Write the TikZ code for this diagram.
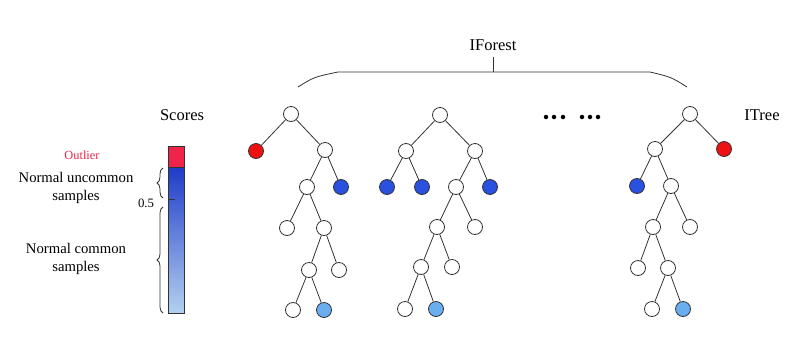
\documentclass[tikz,border=0pt]{standalone}
\usepackage{fontspec}
\setmainfont{Liberation Serif}
\usetikzlibrary{decorations.pathreplacing}
\definecolor{nred}{HTML}{EE1111}
\definecolor{nblue}{HTML}{2A50E0}
\definecolor{nlblue}{HTML}{6AAEF0}
\definecolor{barred}{HTML}{F0244A}
\definecolor{bartop}{HTML}{1E3CC8}
\definecolor{barbot}{HTML}{B4D0F0}
\definecolor{lnc}{HTML}{333333}
\begin{document}
\begin{tikzpicture}[x=1pt,y=-1pt,
  tn/.style={circle,draw=lnc,line width=0.8pt,minimum size=15pt,inner sep=0pt,fill=white},
  rn/.style={tn,fill=nred},
  bn/.style={tn,fill=nblue},
  lbn/.style={tn,fill=nlblue},
  ed/.style={draw=lnc,line width=0.8pt},
  lbl/.style={inner sep=0pt,font=\fontsize{16.5}{19}\selectfont},
  sidetxt/.style={inner sep=0pt,align=center,font=\fontsize{14.7}{18}\selectfont},
  dotn/.style={circle,fill=black,inner sep=0pt,minimum size=4.5pt}]
\useasboundingbox (0,0) rectangle (808,362);

% IForest brace
\node[lbl] (iforest) at (493,45) {IForest};
\coordinate (bt) at (493,57);
\coordinate (bm) at (493,72);
\coordinate (bl) at (298,87);
\coordinate (blc) at (338,72);
\coordinate (brc) at (650,72);
\coordinate (br) at (687,87);
\draw[ed] (bt) -- (bm);
\draw[ed] (bl) .. controls (314,77) .. (blc) -- (brc) .. controls (671,77) .. (br);

\node[lbl] (itree) at (762,115) {ITree};
\node[lbl] (scores) at (182,115) {Scores};

% dots
\foreach \i/\x in {1/546,2/554,3/563,4/582,5/590,6/598}
  \node[dotn] (d\i) at (\x,117) {};

% Tree 1
\node[tn] (t1a) at (291,114) {};
\node[rn] (t1b) at (256,151) {};
\node[tn] (t1c) at (325,150) {};
\node[tn] (t1d) at (307,187) {};
\node[bn] (t1e) at (341,187) {};
\node[tn] (t1f) at (287,228) {};
\node[tn] (t1g) at (324,228) {};
\node[tn] (t1h) at (309,270) {};
\node[tn] (t1i) at (339,270) {};
\node[tn] (t1j) at (293,310) {};
\node[lbn] (t1k) at (324,310) {};
\foreach \p/\c in {a/b,a/c,c/d,c/e,d/f,d/g,g/h,g/i,h/j,h/k}
  \draw[ed] (t1\p) -- (t1\c);

% Tree 2
\node[tn] (t2a) at (440,115) {};
\node[tn] (t2b) at (406,151) {};
\node[tn] (t2c) at (475,151) {};
\node[bn] (t2d) at (387,187) {};
\node[bn] (t2e) at (422,187) {};
\node[tn] (t2f) at (456,187) {};
\node[bn] (t2g) at (490,187) {};
\node[tn] (t2h) at (437,227) {};
\node[tn] (t2i) at (475,227) {};
\node[tn] (t2j) at (421,267) {};
\node[tn] (t2k) at (452,267) {};
\node[tn] (t2l) at (405,309) {};
\node[lbn] (t2m) at (436,309) {};
\foreach \p/\c in {a/b,a/c,b/d,b/e,c/f,c/g,f/h,f/i,h/j,h/k,j/l,j/m}
  \draw[ed] (t2\p) -- (t2\c);

% Tree 3
\node[tn] (t3a) at (690,114) {};
\node[tn] (t3b) at (655,149) {};
\node[rn] (t3c) at (724,149) {};
\node[bn] (t3d) at (637,186) {};
\node[tn] (t3e) at (671,186) {};
\node[tn] (t3f) at (653,227) {};
\node[tn] (t3g) at (690,227) {};
\node[tn] (t3h) at (638,268) {};
\node[tn] (t3i) at (668,268) {};
\node[tn] (t3j) at (652,309) {};
\node[lbn] (t3k) at (683,309) {};
\foreach \p/\c in {a/b,a/c,b/d,b/e,e/f,e/g,f/h,f/i,i/j,i/k}
  \draw[ed] (t3\p) -- (t3\c);

% Score bar
\fill[barred] (168,146) rectangle (184,167);
\shade[top color=bartop,bottom color=barbot] (168,167) rectangle (184,313);
\draw[lnc,line width=0.8pt] (168,167) -- (184,167);
\draw[lnc,line width=0.8pt] (168,146) rectangle (184,313);
\draw[lnc,line width=0.8pt] (169,199) -- (175,199);

\node[inner sep=0pt,text=barred,font=\fontsize{12.4}{14}\selectfont] (outlier) at (82,155) {Outlier};
\node[sidetxt] (unc) at (76,188) {Normal uncommon\\samples};
\node[sidetxt] (com) at (76,259) {Normal common\\samples};
\node[inner sep=0pt,font=\fontsize{12.8}{14}\selectfont] (half) at (146,203) {0.5};

\coordinate (b1s) at (163,198);
\coordinate (b1e) at (163,168);
\coordinate (b2s) at (163,313);
\coordinate (b2e) at (163,207);
\draw[lnc,line width=0.8pt,decorate,decoration={brace,amplitude=6pt}] (b1s) -- (b1e);
\draw[lnc,line width=0.8pt,decorate,decoration={brace,amplitude=6pt}] (b2s) -- (b2e);
\end{tikzpicture}
\end{document}
